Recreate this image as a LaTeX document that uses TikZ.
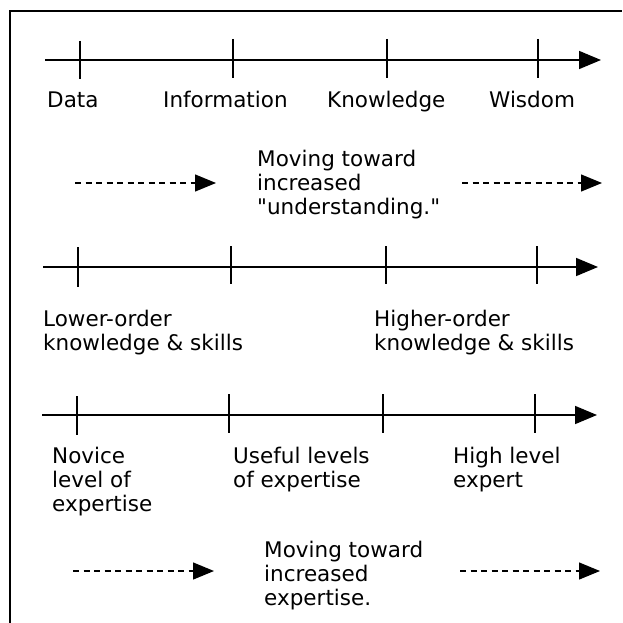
\documentclass[tikz,border=0pt]{standalone}
\usepackage{fontspec}
\setmainfont{DejaVu Sans}
\usetikzlibrary{arrows.meta,positioning}

\begin{document}
\begin{tikzpicture}[
            x=1pt, y=-1pt,
            lbl/.style={anchor=base west, inner sep=0pt, align=left, font=\fontsize{21.5}{24}\selectfont},
            axis/.style={-{Triangle[length=22pt,width=18pt]}, line width=1.6pt},
            tick/.style={line width=1.3pt},
            trend/.style={-{Triangle[length=21pt,width=17pt]}, line width=1.3pt, dash pattern=on 6pt off 4.5pt},
            frame/.style={line width=1.4pt}
        ]

        \useasboundingbox (0,0) rectangle (622,623);

        % Frame (open at right and bottom)
        \coordinate (fbl) at (10,623);
        \coordinate (ftl) at (10,11);
        \coordinate (ftr) at (622,11);
        \draw[frame] (fbl) -- (ftl) -- (ftr);

        % Axis 1: data to wisdom
        \coordinate (a1start) at (45,60);
        \coordinate (a1end) at (601,60);
        \draw[axis] (a1start) -- (a1end);
        \draw[tick] (80,41) -- (80,79);
        \draw[tick] (233,39) -- (233,78);
        \draw[tick] (387,39) -- (387,78);
        \draw[tick] (538,39) -- (538,78);

        \node[lbl] (data) at (47,107) {Data};
        \node[lbl] (information) at (163,107) {Information};
        \node[lbl] (knowledge) at (327,107) {Knowledge};
        \node[lbl] (wisdom) at (489,107) {Wisdom};

        % Understanding
        \coordinate (u1start) at (75,183);
        \coordinate (u1end) at (216,183);
        \coordinate (u2start) at (462,183);
        \coordinate (u2end) at (602,183);
        \draw[trend] (u1start) -- (u1end);
        \draw[trend] (u2start) -- (u2end);
        \node[lbl] (understanding) at (257,214) {Moving toward\\increased\\\textquotedbl understanding.\textquotedbl};

        % Axis 2: order of knowledge
        \coordinate (a2start) at (43,267);
        \coordinate (a2end) at (598,267);
        \draw[axis] (a2start) -- (a2end);
        \draw[tick] (78,247) -- (78,287);
        \draw[tick] (231,246) -- (231,284);
        \draw[tick] (386,246) -- (386,284);
        \draw[tick] (537,246) -- (537,284);

        \node[lbl] (lower) at (43,350) {Lower-order\\knowledge \& skills};
        \node[lbl] (higher) at (374,350) {Higher-order\\knowledge \& skills};

        % Axis 3: expertise
        \coordinate (a3start) at (42,415);
        \coordinate (a3end) at (597,415);
        \draw[axis] (a3start) -- (a3end);
        \draw[tick] (77,396) -- (77,435);
        \draw[tick] (229,394) -- (229,433);
        \draw[tick] (383,394) -- (383,433);
        \draw[tick] (535,394) -- (535,433);

        \node[lbl] (novice) at (52,511) {Novice\\level of\\expertise};
        \node[lbl] (useful) at (233,487) {Useful levels\\of expertise};
        \node[lbl] (expert) at (453,487) {High level\\expert};

        % Expertise
        \coordinate (e1start) at (73,571);
        \coordinate (e1end) at (214,571);
        \coordinate (e2start) at (460,571);
        \coordinate (e2end) at (600,571);
        \draw[trend] (e1start) -- (e1end);
        \draw[trend] (e2start) -- (e2end);
        \node[lbl] (expertise) at (264,605) {Moving toward\\increased\\expertise.};

    \end{tikzpicture}
\end{document}
